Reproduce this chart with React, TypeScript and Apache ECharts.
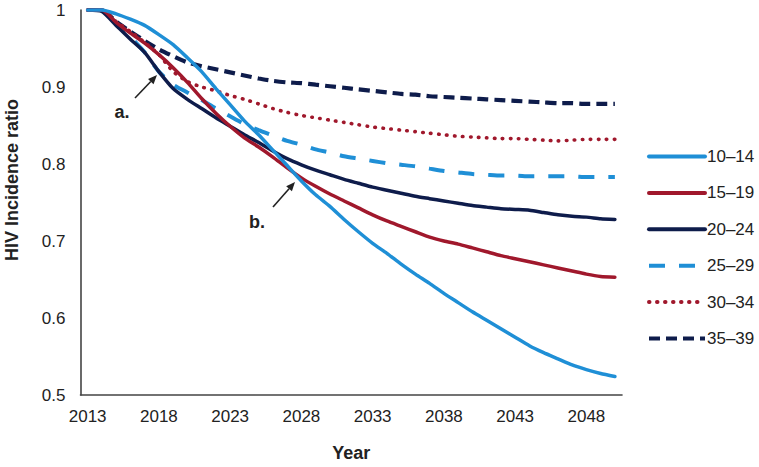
import React, { useEffect, useRef } from "react";
import * as echarts from "echarts";

const years: string[] = [];
for (let y = 2013; y <= 2050; y++) years.push(String(y));

const ageGroups = ["10–14", "15–19", "20–24", "25–29", "30–34", "35–39"];

const s10_14 = [
  1.0, 1.0, 0.995, 0.988, 0.98, 0.968, 0.955, 0.938, 0.92, 0.898, 0.877, 0.856, 0.838, 0.818, 0.798, 0.778,
  0.76, 0.745, 0.728, 0.712, 0.697, 0.684, 0.67, 0.657, 0.645, 0.632, 0.62, 0.608, 0.597, 0.586, 0.575,
  0.564, 0.555, 0.547, 0.539, 0.533, 0.528, 0.524,
];
const s15_19 = [
  1.0, 1.0, 0.984, 0.97, 0.957, 0.942, 0.925, 0.906, 0.885, 0.866, 0.849, 0.834, 0.822, 0.809, 0.795, 0.782,
  0.771, 0.761, 0.752, 0.743, 0.734, 0.726, 0.719, 0.712, 0.705, 0.7, 0.696, 0.691, 0.686, 0.681, 0.677,
  0.673, 0.669, 0.665, 0.661, 0.657, 0.654, 0.653,
];
const s20_24 = [
  1.0, 0.998, 0.98, 0.962, 0.945, 0.92, 0.898, 0.884, 0.872, 0.86, 0.849, 0.838, 0.828, 0.817, 0.807, 0.799,
  0.792, 0.786, 0.78, 0.775, 0.77, 0.766, 0.762, 0.758, 0.755, 0.752, 0.749, 0.746, 0.744, 0.742, 0.741,
  0.74, 0.737, 0.734, 0.732, 0.731, 0.729, 0.728,
];
const s25_29 = [
  1.0, 1.0, 0.983, 0.965, 0.945, 0.92, 0.903, 0.893, 0.883, 0.872, 0.862, 0.852, 0.844, 0.837, 0.83, 0.825,
  0.819, 0.815, 0.81, 0.807, 0.804, 0.801, 0.799, 0.797, 0.794, 0.791, 0.789, 0.787, 0.786, 0.785, 0.785,
  0.784, 0.784, 0.784, 0.784, 0.783, 0.783, 0.783,
];
const s30_34 = [
  1.0, 1.0, 0.985, 0.972, 0.958, 0.942, 0.92, 0.907, 0.9, 0.895, 0.889, 0.884, 0.878, 0.872, 0.867, 0.863,
  0.86, 0.857, 0.854, 0.851, 0.848, 0.846, 0.844, 0.842, 0.84, 0.838, 0.836, 0.835, 0.834, 0.833, 0.833,
  0.832, 0.831, 0.83, 0.831, 0.832, 0.832, 0.832,
];
const s35_39 = [
  1.0, 1.0, 0.985, 0.972, 0.96, 0.949, 0.94, 0.932, 0.927, 0.923, 0.919, 0.915, 0.911, 0.908, 0.906, 0.905,
  0.903, 0.901, 0.899, 0.897, 0.895, 0.893, 0.891, 0.89, 0.888, 0.887, 0.886, 0.885, 0.884, 0.883, 0.882,
  0.881, 0.88, 0.879, 0.879, 0.878, 0.878, 0.878,
];

const seriesValues = [s10_14, s15_19, s20_24, s25_29, s30_34, s35_39];

const LIGHT_BLUE = "#1f8fd6";
const DARK_RED = "#a0182c";
const NAVY = "#0e1c4b";

const styles = [
  { color: LIGHT_BLUE, type: "solid" as any, width: 3.5, cap: "round" },
  { color: DARK_RED, type: "solid" as any, width: 3.5, cap: "round" },
  { color: NAVY, type: "solid" as any, width: 3.5, cap: "round" },
  { color: LIGHT_BLUE, type: [16, 14] as any, width: 4, cap: "butt" },
  { color: DARK_RED, type: [0.5, 7.5] as any, width: 3.6, cap: "round" },
  { color: NAVY, type: [11, 6] as any, width: 4.2, cap: "butt" },
];

const FONT = "'Liberation Sans', Arial, sans-serif";

export default function App() {
  const ref = useRef<HTMLDivElement>(null);

  useEffect(() => {
    if (!ref.current) return;
    const chart = echarts.init(ref.current, null, { renderer: "svg" });

    const arrow = (tx: number, ty: number, hx: number, hy: number) => {
      const dx = hx - tx;
      const dy = hy - ty;
      const len = Math.sqrt(dx * dx + dy * dy);
      const ux = dx / len;
      const uy = dy / len;
      const bx = hx - 9 * ux;
      const by = hy - 9 * uy;
      const px = -uy;
      const py = ux;
      return [
        {
          type: "line",
          shape: { x1: tx, y1: ty, x2: bx, y2: by },
          style: { stroke: "#222", lineWidth: 1.6 },
        },
        {
          type: "polygon",
          shape: {
            points: [
              [hx, hy],
              [bx + 3.8 * px, by + 3.8 * py],
              [bx - 3.8 * px, by - 3.8 * py],
            ],
          },
          style: { fill: "#222" },
        },
      ];
    };

    chart.setOption({
      animation: false,
      backgroundColor: "#ffffff",
      textStyle: { fontFamily: FONT },
      grid: { left: 80.5, right: 137, top: 10, bottom: 68, containLabel: false },
      legend: {
        orient: "vertical",
        left: 642,
        top: 143,
        itemWidth: 56,
        itemHeight: 14,
        itemGap: 19.4,
        textStyle: { fontSize: 17, color: "#222", fontFamily: FONT, padding: [0, 0, 0, -3] },
        itemStyle: { opacity: 0, borderWidth: 0 },
        lineStyle: { width: 4 },
        data: ageGroups,
      },
      xAxis: {
        type: "category",
        data: years,
        boundaryGap: true,
        name: "Year",
        nameLocation: "middle",
        nameGap: 49,
        nameTextStyle: { fontSize: 18, fontWeight: "bold", color: "#222", fontFamily: FONT },
        axisLine: { lineStyle: { color: "#444", width: 1.6 } },
        axisTick: { show: false },
        axisLabel: { interval: 4, margin: 13, fontSize: 17, color: "#222", fontFamily: FONT },
        splitLine: { show: false },
      },
      yAxis: {
        type: "value",
        min: 0.5,
        max: 1,
        interval: 0.1,
        axisLine: { show: true, lineStyle: { color: "#444", width: 1.6 } },
        axisTick: { show: false },
        splitLine: { show: false },
        axisLabel: {
          margin: 15,
          fontSize: 17,
          color: "#222",
          fontFamily: FONT,
          formatter: (v: number) => (Math.abs(v - 1) < 1e-9 ? "1" : v.toFixed(1)),
        },
      },
      series: ageGroups.map((name, i) => ({
        name,
        type: "line",
        data: seriesValues[i],
        symbol: "none",
        showSymbol: false,
        smooth: 0.2,
        color: styles[i].color,
        lineStyle: {
          color: styles[i].color,
          type: styles[i].type,
          width: styles[i].width,
          cap: styles[i].cap,
        },
        z: 10 - i,
      })),
      graphic: [
        {
          type: "text",
          x: 12,
          y: 180,
          rotation: Math.PI / 2,
          style: {
            text: "HIV Incidence ratio",
            fontSize: 18,
            fontWeight: "bold",
            fill: "#222",
            fontFamily: FONT,
            align: "center",
            verticalAlign: "middle",
          },
        },
        {
          type: "text",
          x: 122,
          y: 112,
          style: {
            text: "a.",
            fontSize: 18,
            fontWeight: "bold",
            fill: "#222",
            fontFamily: FONT,
            align: "center",
            verticalAlign: "middle",
          },
        },
        {
          type: "text",
          x: 257,
          y: 222,
          style: {
            text: "b.",
            fontSize: 18,
            fontWeight: "bold",
            fill: "#222",
            fontFamily: FONT,
            align: "center",
            verticalAlign: "middle",
          },
        },
        ...arrow(135, 98, 157, 75),
        ...arrow(273, 207, 295, 182),
      ],
    });

    return () => chart.dispose();
  }, []);

  return (
    <div
      ref={ref}
      style={{ position: "fixed", left: 0, top: 0, width: 759, height: 467, background: "#fff" }}
    />
  );
}
